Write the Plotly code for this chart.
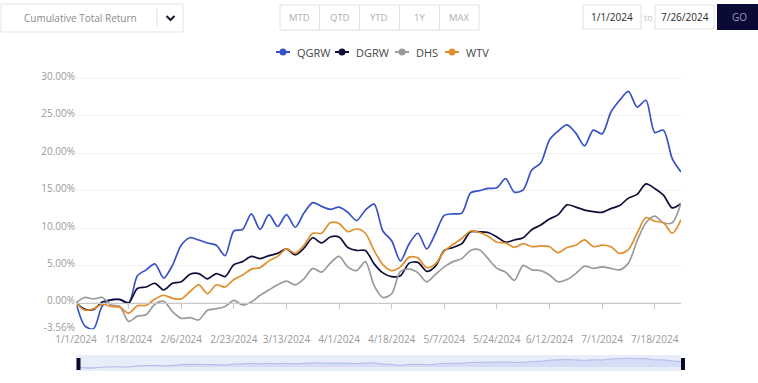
import plotly.graph_objects as go

# ---------------- data ----------------
series_names = ["QGRW", "DGRW", "DHS", "WTV"]
series_colors = ["#3752c6", "#0f0f3a", "#9a9a9a", "#e08f2c"]

# trading-day index (every other trading day from 1/1/2024 to 7/26/2024)
day_index = list(range(0, 139, 2))

tick_index = [0, 12, 24, 36, 48, 60, 72, 84, 96, 108, 120, 132]
tick_labels = ["1/1/2024", "1/18/2024", "2/6/2024", "2/23/2024", "3/13/2024", "4/1/2024",
               "4/18/2024", "5/7/2024", "5/24/2024", "6/12/2024", "7/1/2024", "7/18/2024"]

y_tick_vals = [-3.56, 0, 5, 10, 15, 20, 25, 30]
y_tick_text = ["-3.56%", "0.00%", "5.00%", "10.00%", "15.00%", "20.00%", "25.00%", "30.00%"]

qgrw = [0.0, -3.1, -3.5, -0.4, 0.4, 0.4, -0.1, 3.6, 4.4, 5.2, 3.3, 5.0, 7.7, 8.7, 8.4, 8.0, 7.7, 6.3,
        9.6, 9.8, 11.9, 9.8, 11.8, 10.2, 11.8, 10.1, 12.0, 13.4, 12.9, 12.5, 12.8, 12.1, 11.0, 12.4, 13.2,
        9.6, 8.3, 5.6, 7.9, 9.3, 7.2, 9.3, 11.7, 11.9, 12.0, 14.7, 15.0, 15.3, 15.4, 16.6, 14.8, 15.1,
        17.8, 18.7, 21.8, 23.0, 23.8, 22.7, 21.0, 23.1, 22.6, 25.5, 27.1, 28.3, 26.2, 27.1, 22.8, 23.1,
        19.3, 17.5]

dgrw = [0.0, -0.9, -0.9, 0.1, 0.36, 0.45, 0.0, 1.9, 2.1, 2.6, 1.7, 2.6, 2.8, 3.8, 3.9, 3.2, 3.9, 3.5,
        5.1, 5.5, 6.2, 5.9, 6.3, 6.6, 7.2, 6.4, 7.3, 8.7, 8.0, 8.8, 8.8, 7.4, 7.0, 7.0, 5.2,
        4.0, 3.5, 3.6, 5.3, 5.4, 4.2, 4.9, 7.0, 7.4, 7.9, 9.5, 9.5, 9.4, 8.8, 8.1, 8.4, 8.7,
        9.8, 10.4, 11.2, 11.8, 13.1, 12.8, 12.4, 12.2, 12.1, 12.6, 13.0, 14.0, 14.5, 15.9, 15.3, 14.4,
        12.7, 13.3]

dhs = [0.0, 0.7, 0.5, 0.7, -0.3, -0.5, -2.5, -1.8, -1.6, -0.2, 0.2, -1.2, -2.1, -2.0, -2.3, -1.0, -0.8, -0.5,
       0.3, -0.3, 0.1, 1.0, 1.7, 2.4, 2.9, 2.4, 3.2, 4.6, 4.1, 5.3, 6.2, 4.8, 4.3, 5.5, 2.3,
       0.7, 1.2, 4.2, 4.5, 4.0, 2.8, 3.8, 4.8, 5.5, 5.9, 7.0, 7.1, 5.9, 4.6, 4.1, 3.0, 5.0,
       4.4, 4.3, 3.7, 2.8, 3.1, 3.9, 4.9, 4.6, 4.8, 4.6, 4.4, 5.3, 8.3, 10.7, 11.6, 10.7,
       10.7, 13.3]

wtv = [0.0, -1.0, -0.8, -0.2, -0.5, -0.6, -1.4, -0.4, -0.35, 0.5, 1.0, 0.6, 0.5, 1.5, 2.4, 1.2, 2.4, 2.1,
       3.1, 3.7, 4.5, 4.7, 5.6, 6.2, 7.2, 6.6, 7.7, 9.3, 9.3, 10.7, 10.6, 9.5, 9.9, 9.3, 7.0,
       5.1, 4.3, 4.8, 6.1, 6.0, 4.7, 5.2, 6.9, 7.8, 8.6, 9.6, 9.4, 8.9, 8.1, 8.0, 7.4, 7.9,
       7.5, 7.6, 7.5, 6.7, 7.4, 7.7, 8.4, 7.5, 7.7, 7.5, 6.6, 7.1, 9.3, 11.4, 10.9, 10.7,
       9.3, 11.1]

series_values = [qgrw, dgrw, dhs, wtv]

# ---------------- layout helpers ----------------
W, H = 758, 383
ML, MR, MT, MB = 76, 77, 0, 0
PW = W - ML - MR
PH = H - MT - MB


def px(x):
    return (x - ML) / PW


def py(y):
    return (H - MB - y) / PH


FONT = "Open Sans"

fig = go.Figure()

for name, color, vals in zip(series_names, series_colors, series_values):
    fig.add_trace(go.Scatter(
        x=day_index, y=vals, mode="lines", name=name, showlegend=False,
        line=dict(color=color, width=1.7, shape="spline", smoothing=0.8),
        hoverinfo="skip", xaxis="x", yaxis="y"))

# navigator area
fig.add_trace(go.Scatter(
    x=day_index, y=qgrw, mode="lines", fill="tozeroy", showlegend=False,
    line=dict(color="rgba(170,182,232,0.9)", width=1, shape="spline"),
    fillcolor="rgba(196,205,242,0.55)", hoverinfo="skip", xaxis="x2", yaxis="y2"))

main_bottom = py(329.3)
main_top = py(74.9)

shapes = [
    # navigator background
    dict(type="rect", xref="x2 domain", yref="y2 domain", x0=0, x1=1, y0=0, y1=1,
         fillcolor="#e9edfa", line=dict(width=0), layer="below"),
    # navigator handles
    dict(type="rect", xref="paper", yref="paper", x0=px(76.5), x1=px(80.5),
         y0=py(370), y1=py(358), fillcolor="#0b0a2e", line=dict(width=0)),
    dict(type="rect", xref="paper", yref="paper", x0=px(681), x1=px(685),
         y0=py(370), y1=py(358), fillcolor="#0b0a2e", line=dict(width=0)),
    # dropdown box
    dict(type="rect", xref="paper", yref="paper", x0=px(1), x1=px(183), y0=py(32), y1=py(4),
         fillcolor="white", line=dict(color="#e4e4e4", width=1)),
    dict(type="line", xref="paper", yref="paper", x0=px(157), x1=px(157), y0=py(26), y1=py(9),
         line=dict(color="#dddddd", width=1)),
    dict(type="path", xref="paper", yref="paper",
         path=f"M {px(166.5)} {py(16)} L {px(170.5)} {py(20)} L {px(174.5)} {py(16)}",
         line=dict(color="#1a1a2a", width=2)),
    # range buttons
    dict(type="rect", xref="paper", yref="paper", x0=px(280), x1=px(479), y0=py(30), y1=py(5),
         fillcolor="white", line=dict(color="#e2e2e2", width=1)),
]
for xd in [319.5, 359.5, 399.5, 439.5]:
    shapes.append(dict(type="line", xref="paper", yref="paper", x0=px(xd), x1=px(xd), y0=py(30), y1=py(5),
                       line=dict(color="#e2e2e2", width=1)))
shapes += [
    dict(type="rect", xref="paper", yref="paper", x0=px(583), x1=px(641), y0=py(29), y1=py(5),
         fillcolor="white", line=dict(color="#e0e0e0", width=1)),
    dict(type="rect", xref="paper", yref="paper", x0=px(655), x1=px(714), y0=py(29), y1=py(5),
         fillcolor="white", line=dict(color="#e0e0e0", width=1)),
    dict(type="rect", xref="paper", yref="paper", x0=px(717), x1=px(758), y0=py(30), y1=py(4),
         fillcolor="#0b0a36", line=dict(width=0)),
]

annotations = [
    dict(text="Cumulative Total Return", x=px(80), y=py(18.5), color="#8a8a8a", size=10),
    dict(text="MTD", x=px(299.5), y=py(17.5), color="#b0b0b0", size=9.5),
    dict(text="QTD", x=px(339.5), y=py(17.5), color="#b0b0b0", size=9.5),
    dict(text="YTD", x=px(379.5), y=py(17.5), color="#b0b0b0", size=9.5),
    dict(text="1Y", x=px(419.5), y=py(17.5), color="#b0b0b0", size=9.5),
    dict(text="MAX", x=px(459.5), y=py(17.5), color="#b0b0b0", size=9.5),
    dict(text="1/1/2024", x=px(612), y=py(17.5), color="#2a2a2a", size=10),
    dict(text="to", x=px(648), y=py(17.5), color="#c0c0c0", size=9),
    dict(text="7/26/2024", x=px(684.5), y=py(17.5), color="#2a2a2a", size=10),
    dict(text="GO", x=px(739), y=py(17.5), color="#9298b8", size=10),
]
ann = [dict(text=a["text"], x=a["x"], y=a["y"], xref="paper", yref="paper", showarrow=False,
            xanchor="center", yanchor="middle", font=dict(family=FONT, size=a["size"], color=a["color"]))
       for a in annotations]

# legend (line + dot + name), laid out like the reference
legend_x = [276, 335, 395, 445]
LEG_Y = 52
for name, color, lx in zip(series_names, series_colors, legend_x):
    shapes.append(dict(type="line", xref="paper", yref="paper", x0=px(lx), x1=px(lx + 14),
                       y0=py(LEG_Y), y1=py(LEG_Y), line=dict(color=color, width=2)))
    shapes.append(dict(type="circle", xref="paper", yref="paper", x0=px(lx + 3.5), x1=px(lx + 10.5),
                       y0=py(LEG_Y + 3.5), y1=py(LEG_Y - 3.5), fillcolor=color, line=dict(width=0)))
    ann.append(dict(text=name, x=px(lx + 19), y=py(LEG_Y), xref="paper", yref="paper", showarrow=False,
                    xanchor="left", yanchor="middle", font=dict(family=FONT, size=11, color="#444444")))

fig.update_layout(
    width=W, height=H,
    margin=dict(l=ML, r=MR, t=MT, b=MB, pad=0),
    template="none",
    paper_bgcolor="white", plot_bgcolor="rgba(0,0,0,0)",
    font=dict(family=FONT, size=10, color="#999999"),
    showlegend=False,
    xaxis=dict(domain=[0, 1], range=[day_index[0], day_index[-1]], anchor="free", position=py(302.7),
               showgrid=False, zeroline=False, showline=True, linecolor="#c8c8c8", linewidth=1,
               ticks="outside", ticklen=5, tickcolor="#c8c8c8",
               tickvals=tick_index, ticktext=tick_labels, ticklabelstandoff=22,
               tickfont=dict(family=FONT, size=10, color="#999999")),
    yaxis=dict(domain=[main_bottom, main_top], range=[-3.56, 30.5], anchor="x",
               showgrid=True, gridcolor="#f0f0f0", gridwidth=1, zeroline=False, showline=False,
               tickvals=y_tick_vals, ticktext=y_tick_text, ticks="", ticklabelshift=-2,
               tickfont=dict(family=FONT, size=10, color="#999999")),
    xaxis2=dict(domain=[0, 1], range=[day_index[0], day_index[-1]], anchor="y2", visible=False),
    yaxis2=dict(domain=[py(371), py(355)], range=[-12.8, 38.5], anchor="x2", visible=False),
    shapes=shapes,
    annotations=ann,
)

fig.write_html("out.html")
